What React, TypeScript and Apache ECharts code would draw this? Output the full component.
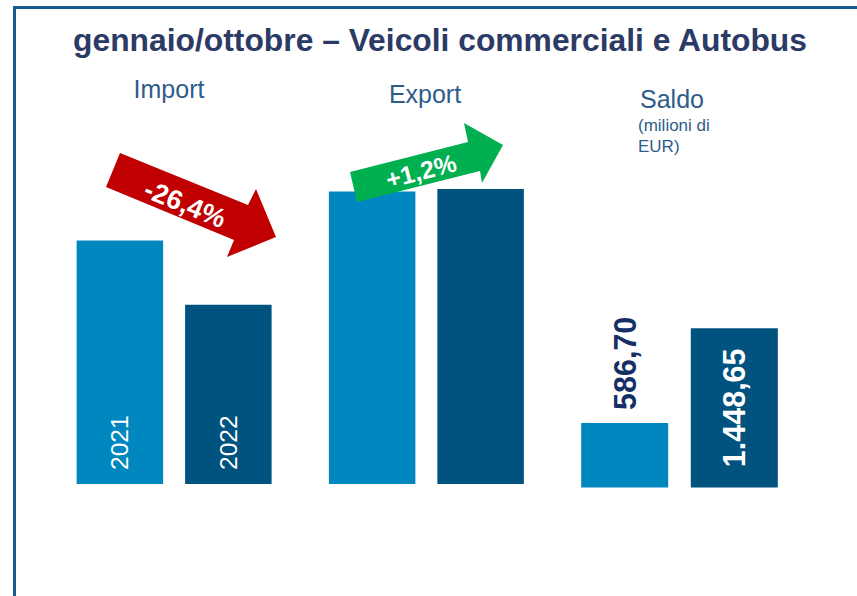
import React, { useEffect, useRef } from "react";
import * as echarts from "echarts";

const groups = ["Import", "Export"];
const values2021 = [3090, 3713];
const values2022 = [2275, 3745];
const saldoCategory = ["Saldo"];
const saldo2021 = [586.7];
const saldo2022 = [1448.65];
const yearLabels = ["2021", "2022"];
const changeLabels = ["-26,4%", "+1,2%"];
const titleText = "gennaio/ottobre \u2013 Veicoli commerciali e Autobus";
const saldoNote = ["(milioni di", "EUR)"];

const LIGHT = "#0087bf";
const DARK = "#00527f";
const HEAD = "#2e5c8a";
const FONT = "'Liberation Sans', Arial, sans-serif";

function itFormat(v: number): string {
  const fixed = v.toFixed(2);
  const [intPart, dec] = fixed.split(".");
  const grouped = intPart.replace(/\B(?=(\d{3})+(?!\d))/g, ".");
  return grouped + "," + dec;
}

export default function App() {
  const ref = useRef<HTMLDivElement>(null);
  useEffect(() => {
    if (!ref.current) return;
    const chart = echarts.init(ref.current, null, { renderer: "svg" });
    const deg = Math.PI / 180;
    const yearLabel = (txt: string) => ({
      show: true,
      position: "insideBottom",
      rotate: 90,
      align: "left",
      verticalAlign: "middle",
      distance: 14,
      formatter: txt,
      color: "#ffffff",
      fontSize: 24.5,
      fontFamily: FONT,
    });
    const headText = (txt: string, x: number, y: number, size: number, align: string) => ({
      type: "text",
      z: 20,
      x,
      y,
      style: {
        text: txt,
        fill: HEAD,
        font: `${size}px ${FONT}`,
        textAlign: align,
        textVerticalAlign: "middle",
        align,
        verticalAlign: "middle",
      },
    });
    const option: any = {
      animation: false,
      backgroundColor: "#ffffff",
      textStyle: { fontFamily: FONT },
      grid: [
        { left: 48, top: 90, width: 504.5, height: 394 },
        { left: 553.5, top: 267.5, width: 252, height: 220 },
      ],
      xAxis: [
        { type: "category", gridIndex: 0, data: groups, show: false },
        { type: "category", gridIndex: 1, data: saldoCategory, show: false },
      ],
      yAxis: [
        { type: "value", gridIndex: 0, min: 0, max: 5000, show: false },
        { type: "value", gridIndex: 1, min: 0, max: 2000, show: false },
      ],
      series: [
        {
          name: yearLabels[0],
          type: "bar",
          xAxisIndex: 0,
          yAxisIndex: 0,
          barWidth: 86.5,
          barGap: "25.4%",
          itemStyle: { color: LIGHT },
          data: values2021.map((v, i) => ({
            value: v,
            label: i === 0 ? yearLabel(yearLabels[0]) : { show: false },
          })),
        },
        {
          name: yearLabels[1],
          type: "bar",
          xAxisIndex: 0,
          yAxisIndex: 0,
          barWidth: 86.5,
          barGap: "25.4%",
          itemStyle: { color: DARK },
          data: values2022.map((v, i) => ({
            value: v,
            label: i === 0 ? yearLabel(yearLabels[1]) : { show: false },
          })),
        },
        {
          name: "Saldo " + yearLabels[0],
          type: "bar",
          xAxisIndex: 1,
          yAxisIndex: 1,
          barWidth: 87,
          barGap: "26%",
          itemStyle: { color: LIGHT },
          label: {
            show: true,
            position: "top",
            rotate: 90,
            align: "left",
            verticalAlign: "middle",
            distance: 13,
            formatter: (p: any) => itFormat(p.value),
            color: "#142f66",
            fontSize: 30.5,
            fontWeight: "bold",
            fontFamily: FONT,
          },
          data: saldo2021,
        },
        {
          name: "Saldo " + yearLabels[1],
          type: "bar",
          xAxisIndex: 1,
          yAxisIndex: 1,
          barWidth: 87,
          barGap: "26%",
          itemStyle: { color: DARK },
          label: {
            show: true,
            position: "inside",
            rotate: 90,
            align: "center",
            verticalAlign: "middle",
            formatter: (p: any) => itFormat(p.value),
            color: "#ffffff",
            fontSize: 30.5,
            fontWeight: "bold",
            fontFamily: FONT,
          },
          data: saldo2022,
        },
      ],
      graphic: [
        {
          type: "line",
          z: 20,
          shape: { x1: 13, y1: 7.5, x2: 860, y2: 7.5 },
          style: { stroke: "#1a5b8c", lineWidth: 3 },
        },
        {
          type: "line",
          z: 20,
          shape: { x1: 14.5, y1: 6, x2: 14.5, y2: 600 },
          style: { stroke: "#1a5b8c", lineWidth: 3 },
        },
        {
          type: "text",
          z: 20,
          x: 440,
          y: 40,
          style: {
            text: titleText,
            fill: "#2c3a66",
            font: `bold 31.8px ${FONT}`,
            textAlign: "center",
            textVerticalAlign: "middle",
            align: "center",
            verticalAlign: "middle",
          },
        },
        headText(groups[0], 169, 89, 25, "center"),
        headText(groups[1], 425, 94, 25, "center"),
        headText(saldoCategory[0], 640, 99, 25, "left"),
        headText(saldoNote[0], 638, 125, 17, "left"),
        headText(saldoNote[1], 638, 146, 17, "left"),
        {
          type: "polygon",
          z: 10,
          shape: {
            points: [
              [120, 153],
              [248, 205],
              [256, 189],
              [276, 237],
              [227, 257],
              [234, 240],
              [106, 187],
            ],
          },
          style: { fill: "#c00000" },
        },
        {
          type: "text",
          z: 11,
          x: 185,
          y: 204,
          rotation: -22 * deg,
          style: {
            text: changeLabels[0],
            fill: "#ffffff",
            font: `bold 27px ${FONT}`,
            textAlign: "center",
            textVerticalAlign: "middle",
            align: "center",
            verticalAlign: "middle",
          },
        },
        {
          type: "polygon",
          z: 10,
          shape: {
            points: [
              [350, 172],
              [468, 142],
              [464, 123],
              [503, 145],
              [482, 183],
              [480, 171],
              [357, 202],
            ],
          },
          style: { fill: "#00b050" },
        },
        {
          type: "text",
          z: 11,
          x: 421,
          y: 171,
          rotation: 14.5 * deg,
          style: {
            text: changeLabels[1],
            fill: "#ffffff",
            font: `bold 25px ${FONT}`,
            textAlign: "center",
            textVerticalAlign: "middle",
            align: "center",
            verticalAlign: "middle",
          },
        },
      ],
    };
    chart.setOption(option);
    return () => chart.dispose();
  }, []);
  return (
    <div
      ref={ref}
      style={{ position: "absolute", left: 0, top: 0, width: 857, height: 596 }}
    />
  );
}
